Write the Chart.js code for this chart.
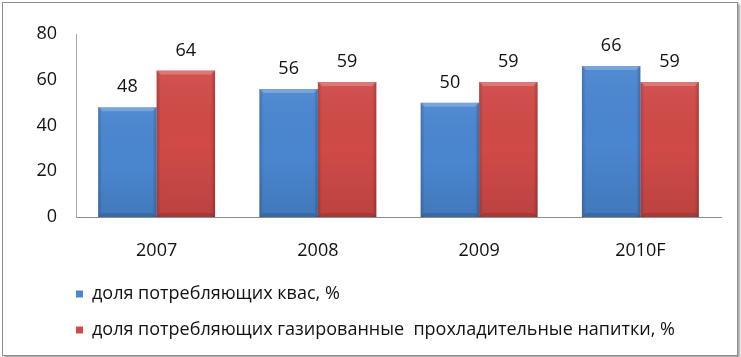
<!DOCTYPE html>
<html>
<head>
<meta charset="utf-8">
<script src="https://cdn.jsdelivr.net/npm/chart.js@4/dist/chart.umd.min.js"></script>
<style>
  body { margin: 0; background: #fff; }
  #box {
    position: absolute; left: 2px; top: 2px;
    width: 734px; height: 352px;
    border: 1px solid #8c8c8c;
    box-shadow: 2px 2px 2px rgba(0,0,0,0.35);
    background: #fff;
  }
  canvas { display: block; }
</style>
</head>
<body>
<div id="box"><canvas id="bar-chart" width="734" height="352"></canvas></div>
<script>
var years = ['2007', '2008', '2009', '2010F'];
var kvas = [48, 56, 50, 66];
var soda = [64, 59, 59, 59];
var kvasLabel = 'доля потребляющих квас, %';
var sodaLabel = 'доля потребляющих газированные  прохладительные напитки, %';

Chart.defaults.font.family = '"Open Sans", sans-serif';
Chart.defaults.font.size = 18;
Chart.defaults.color = '#111';

// move the legend so the markers start under the plot, like the original
var legendShift = {
    id: 'legendShift',
    afterLayout: function(chart) {
        if (chart.legend) {
            chart.legend.left += 55;
            chart.legend.right += 55;
        }
    }
};

// bevel look on bars + value labels above them
var barDecor = {
    id: 'barDecor',
    afterDatasetsDraw: function(chart) {
        var ctx = chart.ctx;
        chart.data.datasets.forEach(function(ds, di) {
            var meta = chart.getDatasetMeta(di);
            meta.data.forEach(function(bar, i) {
                var l = bar.x - bar.width / 2, r = bar.x + bar.width / 2;
                var t = bar.y, b = bar.base;
                var e = 4;
                ctx.save();
                var g = ctx.createLinearGradient(l, 0, r, 0);
                g.addColorStop(0, 'rgba(0,0,0,0.18)');
                g.addColorStop(0.07, 'rgba(0,0,0,0)');
                g.addColorStop(0.93, 'rgba(0,0,0,0)');
                g.addColorStop(1, 'rgba(0,0,0,0.22)');
                ctx.fillStyle = g;
                ctx.fillRect(l, t, r - l, b - t);
                var gv = ctx.createLinearGradient(0, t, 0, b);
                gv.addColorStop(0, 'rgba(255,255,255,0.05)');
                gv.addColorStop(0.5, 'rgba(0,0,0,0)');
                gv.addColorStop(1, 'rgba(0,0,0,0.1)');
                ctx.fillStyle = gv;
                ctx.fillRect(l, t, r - l, b - t);
                // light top edge
                ctx.fillStyle = 'rgba(255,255,255,0.22)';
                ctx.beginPath();
                ctx.moveTo(l, t);
                ctx.lineTo(r, t);
                ctx.lineTo(r - e, t + e);
                ctx.lineTo(l + e, t + e);
                ctx.closePath();
                ctx.fill();
                // darker bottom edge
                ctx.fillStyle = 'rgba(0,0,0,0.12)';
                ctx.beginPath();
                ctx.moveTo(l, b);
                ctx.lineTo(r, b);
                ctx.lineTo(r - e, b - e);
                ctx.lineTo(l + e, b - e);
                ctx.closePath();
                ctx.fill();
                ctx.restore();

                ctx.save();
                ctx.font = '18px "Open Sans", sans-serif';
                ctx.fillStyle = '#111';
                ctx.textAlign = 'center';
                ctx.textBaseline = 'middle';
                ctx.fillText(ds.data[i], bar.x, bar.y - 20);
                ctx.restore();
            });
        });
    }
};

var canvas = document.getElementById('bar-chart');
new Chart(canvas, {
    type: 'bar',
    data: {
        labels: years,
        datasets: [{
            label: kvasLabel,
            data: kvas,
            backgroundColor: '#4A86D0',
            borderWidth: 0,
            barPercentage: 1,
            categoryPercentage: 0.725
        }, {
            label: sodaLabel,
            data: soda,
            backgroundColor: '#D04A47',
            borderWidth: 0,
            barPercentage: 1,
            categoryPercentage: 0.725
        }]
    },
    options: {
        responsive: false,
        animation: false,
        layout: { padding: { top: 31, right: 16, left: 0, bottom: 6 } },
        scales: {
            x: {
                grid: { display: false, drawTicks: false },
                border: { display: true, color: '#8c8c8c', width: 1 },
                ticks: { padding: 23 },
                afterFit: function(scale) { scale.height = 50; }
            },
            y: {
                min: 0,
                max: 80,
                grid: { display: false, drawTicks: false },
                border: { display: true, color: '#a6a6a6', width: 1 },
                ticks: { stepSize: 20, padding: 19 },
                afterFit: function(scale) { scale.width = 73; }
            }
        },
        plugins: {
            legend: {
                position: 'bottom',
                align: 'start',
                labels: { boxWidth: 7, boxHeight: 7, padding: 18 }
            },
            tooltip: { enabled: false }
        }
    },
    plugins: [legendShift, barDecor]
});
</script>
</body>
</html>
